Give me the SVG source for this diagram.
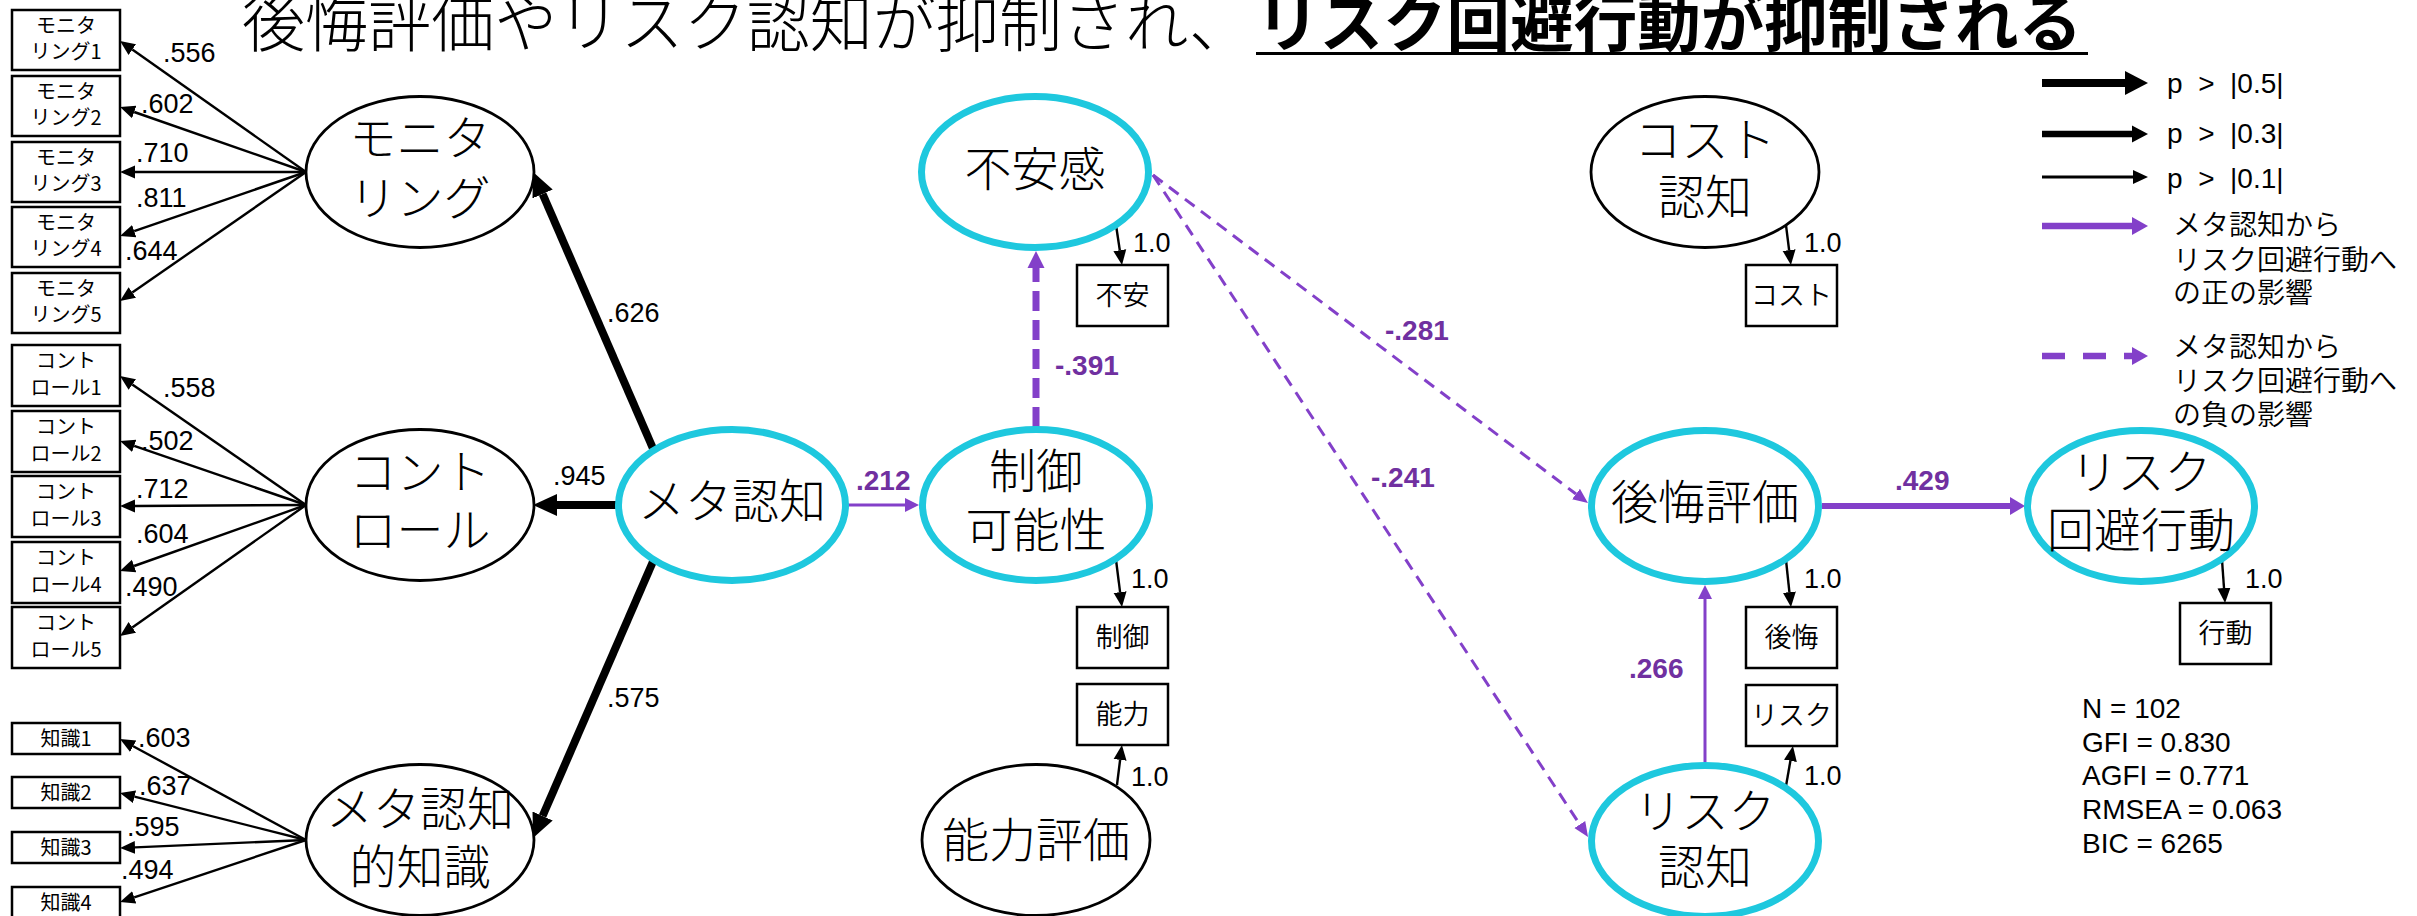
<svg xmlns="http://www.w3.org/2000/svg" width="2417" height="916" viewBox="0 0 2417 916">
<defs>
<style>
.jp{font-family:"Noto Sans CJK JP","Noto Sans",sans-serif;fill:#000}
.nt{font-family:"Noto Sans CJK JP","Noto Sans",sans-serif;font-size:47px;font-weight:300;text-anchor:middle;fill:#000}
.st{font-family:"Noto Sans CJK JP","Noto Sans",sans-serif;font-size:20px;text-anchor:middle;fill:#000}
.mt{font-family:"Noto Sans CJK JP","Noto Sans",sans-serif;font-size:27px;font-weight:350;text-anchor:middle;fill:#000}
.lg{font-family:"Noto Sans CJK JP","Noto Sans",sans-serif;font-size:28px;font-weight:350;fill:#000}
.lb{font-family:"Liberation Sans",Arial,sans-serif;font-size:27px;fill:#000}
.sx{font-family:"Liberation Sans",Arial,sans-serif;font-size:28px;fill:#000}
.pl{font-family:"Liberation Sans",Arial,sans-serif;font-size:28px;font-weight:bold;fill:#7030A0}
.bx{fill:#fff;stroke:#000;stroke-width:2.5}
.be{fill:#fff;stroke:#000;stroke-width:2.8}
.ce{fill:#fff;stroke:#1EC8DE;stroke-width:7}
.k1{stroke:#000;stroke-width:2.4;fill:none}
.k3{stroke:#000;stroke-width:8;fill:none}
.p1{stroke:#8340C9;stroke-width:3;fill:none}
.p2{stroke:#8340C9;stroke-width:6;fill:none}
.pd1{stroke:#8340C9;stroke-width:3;fill:none;stroke-dasharray:12 8}
.pd2{stroke:#8340C9;stroke-width:7;fill:none;stroke-dasharray:20 9}
</style>
<marker id="ak" markerUnits="userSpaceOnUse" viewBox="0 -8 16 16" markerWidth="16" markerHeight="16" refX="0" refY="0" orient="auto"><path d="M0,-6.5L15,0L0,6.5z" fill="#000"/></marker>
<marker id="aK" markerUnits="userSpaceOnUse" viewBox="0 -12 25 24" markerWidth="25" markerHeight="24" refX="0" refY="0" orient="auto"><path d="M0,-11L24,0L0,11z" fill="#000"/></marker>
<marker id="ap" markerUnits="userSpaceOnUse" viewBox="0 -8 15 16" markerWidth="15" markerHeight="16" refX="0" refY="0" orient="auto"><path d="M0,-7L14,0L0,7z" fill="#8340C9"/></marker>
<marker id="ad" markerUnits="userSpaceOnUse" viewBox="0 -8 16 16" markerWidth="16" markerHeight="16" refX="0" refY="0" orient="auto"><path d="M0,-6.5L15,0L0,6.5z" fill="#8340C9"/></marker>
<marker id="aP" markerUnits="userSpaceOnUse" viewBox="0 -10 16 20" markerWidth="16" markerHeight="20" refX="0" refY="0" orient="auto"><path d="M0,-9L15,0L0,9z" fill="#8340C9"/></marker>
<marker id="aD" markerUnits="userSpaceOnUse" viewBox="0 -9 18 18" markerWidth="18" markerHeight="18" refX="0" refY="0" orient="auto"><path d="M0,-8.5L17,0L0,8.5z" fill="#8340C9"/></marker>
</defs>
<rect width="2417" height="916" fill="#fff"/>

<g id="title">
<text x="242" y="46" class="jp" font-size="64" font-weight="300" textLength="1010" lengthAdjust="spacingAndGlyphs">後悔評価やリスク認知が抑制され、</text>
<text x="1256" y="46" class="jp" font-size="64" font-weight="bold" textLength="826" lengthAdjust="spacingAndGlyphs">リスク回避行動が抑制される</text>
<rect x="1256" y="52" width="832" height="3" fill="#000"/>
</g>

<g id="connectors">
<path class="k1" marker-end="url(#ak)" d="M306,172L132.3,49.6"/>
<path class="k1" marker-end="url(#ak)" d="M306,172L134.2,112"/>
<path class="k1" marker-end="url(#ak)" d="M306,172L135,172"/>
<path class="k1" marker-end="url(#ak)" d="M306,172L134.2,231.1"/>
<path class="k1" marker-end="url(#ak)" d="M306,172L132.3,292.5"/>
<path class="k1" marker-end="url(#ak)" d="M306,505L132.3,384.5"/>
<path class="k1" marker-end="url(#ak)" d="M306,505L134.2,445.9"/>
<path class="k1" marker-end="url(#ak)" d="M306,505L135,506"/>
<path class="k1" marker-end="url(#ak)" d="M306,505L134.1,566"/>
<path class="k1" marker-end="url(#ak)" d="M306,505L132.3,627.4"/>
<path class="k1" marker-end="url(#ak)" d="M306,840L133.2,746.2"/>
<path class="k1" marker-end="url(#ak)" d="M306,840L134.5,796.7"/>
<path class="k1" marker-end="url(#ak)" d="M306,840L135,847.4"/>
<path class="k1" marker-end="url(#ak)" d="M306,840L134.2,897.3"/>
<path class="k3" marker-end="url(#aK)" d="M658,460L542.6,194"/>
<path class="k3" marker-end="url(#aK)" d="M640,505L557,505"/>
<path class="k3" marker-end="url(#aK)" d="M658,550L542.6,816"/>
<path class="p1" marker-end="url(#ap)" d="M840,505L905,505"/>
<path class="pd2" marker-end="url(#aD)" d="M1036,427L1036,268"/>
<path class="pd1" marker-end="url(#ad)" d="M1153,175L1576,494"/>
<path class="pd1" marker-end="url(#ad)" d="M1153,175L1579.8,824.5"/>
<path class="p1" marker-end="url(#ap)" d="M1705,762L1705,599"/>
<path class="p2" marker-end="url(#aP)" d="M1822,506L2010,506"/>
<path class="k1" marker-end="url(#ak)" d="M1116,225L1119.8,250.2"/>
<path class="k1" marker-end="url(#ak)" d="M1116,560L1120.1,592.1"/>
<path class="k1" marker-end="url(#ak)" d="M1117,785L1120.1,759.9"/>
<path class="k1" marker-end="url(#ak)" d="M1786,225L1789.1,250.1"/>
<path class="k1" marker-end="url(#ak)" d="M1786,560L1789.4,592.1"/>
<path class="k1" marker-end="url(#ak)" d="M1786,786L1790.4,760.8"/>
<path class="k1" marker-end="url(#ak)" d="M2222,560L2224,588"/>
<text class="lb" x="163" y="62">.556</text>
<text class="lb" x="141" y="113">.602</text>
<text class="lb" x="136" y="162">.710</text>
<text class="lb" x="136" y="207">.811</text>
<text class="lb" x="125" y="260">.644</text>
<text class="lb" x="163" y="397">.558</text>
<text class="lb" x="141" y="450">.502</text>
<text class="lb" x="136" y="498">.712</text>
<text class="lb" x="136" y="543">.604</text>
<text class="lb" x="125" y="596">.490</text>
<text class="lb" x="138" y="747">.603</text>
<text class="lb" x="139" y="795">.637</text>
<text class="lb" x="127" y="836">.595</text>
<text class="lb" x="121" y="879">.494</text>
<text class="lb" x="607" y="322">.626</text>
<text class="lb" x="553" y="485">.945</text>
<text class="lb" x="607" y="707">.575</text>
<text class="lb" x="1133" y="252">1.0</text>
<text class="lb" x="1131" y="588">1.0</text>
<text class="lb" x="1131" y="786">1.0</text>
<text class="lb" x="1804" y="252">1.0</text>
<text class="lb" x="1804" y="588">1.0</text>
<text class="lb" x="1804" y="785">1.0</text>
<text class="lb" x="2245" y="588">1.0</text>
<text class="pl" x="856" y="490">.212</text>
<text class="pl" x="1055" y="375">-.391</text>
<text class="pl" x="1385" y="340">-.281</text>
<text class="pl" x="1371" y="487">-.241</text>
<text class="pl" x="1629" y="678">.266</text>
<text class="pl" x="1895" y="490">.429</text>
</g>

<g id="obs-monitoring">
<rect class="bx" x="12" y="10" width="108" height="60"/><text class="st" x="66" y="33">モニタ<tspan x="66" y="59">リング1</tspan></text>
<rect class="bx" x="12" y="76" width="108" height="60"/><text class="st" x="66" y="99">モニタ<tspan x="66" y="125">リング2</tspan></text>
<rect class="bx" x="12" y="142" width="108" height="60"/><text class="st" x="66" y="165">モニタ<tspan x="66" y="191">リング3</tspan></text>
<rect class="bx" x="12" y="207" width="108" height="60"/><text class="st" x="66" y="230">モニタ<tspan x="66" y="256">リング4</tspan></text>
<rect class="bx" x="12" y="273" width="108" height="60"/><text class="st" x="66" y="296">モニタ<tspan x="66" y="322">リング5</tspan></text>
</g>
<g id="obs-control">
<rect class="bx" x="12" y="345" width="108" height="61"/><text class="st" x="66" y="368">コント<tspan x="66" y="395">ロール1</tspan></text>
<rect class="bx" x="12" y="411" width="108" height="61"/><text class="st" x="66" y="434">コント<tspan x="66" y="461">ロール2</tspan></text>
<rect class="bx" x="12" y="476" width="108" height="61"/><text class="st" x="66" y="499">コント<tspan x="66" y="526">ロール3</tspan></text>
<rect class="bx" x="12" y="542" width="108" height="61"/><text class="st" x="66" y="565">コント<tspan x="66" y="592">ロール4</tspan></text>
<rect class="bx" x="12" y="607" width="108" height="61"/><text class="st" x="66" y="630">コント<tspan x="66" y="657">ロール5</tspan></text>
</g>
<g id="obs-knowledge">
<rect class="bx" x="12" y="723" width="108" height="31"/><text class="st" x="66" y="746">知識1</text>
<rect class="bx" x="12" y="777" width="108" height="31"/><text class="st" x="66" y="800">知識2</text>
<rect class="bx" x="12" y="832" width="108" height="31"/><text class="st" x="66" y="855">知識3</text>
<rect class="bx" x="12" y="887" width="108" height="31"/><text class="st" x="66" y="910">知識4</text>
</g>

<g id="monitoring"><ellipse class="be" cx="420" cy="172" rx="114" ry="75.5"/><text class="nt" x="420" y="155">モニタ<tspan x="420" y="215">リング</tspan></text></g>
<g id="control"><ellipse class="be" cx="420" cy="505" rx="114" ry="75.5"/><text class="nt" x="420" y="489">コント<tspan x="420" y="547">ロール</tspan></text></g>
<g id="metaknowledge"><ellipse class="be" cx="420" cy="840" rx="114" ry="75.5"/><text class="nt" x="420" y="826">メタ認知<tspan x="420" y="884">的知識</tspan></text></g>
<g id="metacognition"><ellipse class="ce" cx="732" cy="505" rx="113.5" ry="75.5"/><text class="nt" x="732" y="518">メタ認知</text></g>
<g id="anxiety"><ellipse class="ce" cx="1035" cy="172" rx="113.5" ry="75.5"/><text class="nt" x="1035" y="186">不安感</text></g>
<g id="controllability"><ellipse class="ce" cx="1036" cy="505" rx="113.5" ry="75.5"/><text class="nt" x="1036" y="488">制御<tspan x="1036" y="547">可能性</tspan></text></g>
<g id="ability"><ellipse class="be" cx="1036" cy="840" rx="114" ry="75.5"/><text class="nt" x="1036" y="857">能力評価</text></g>
<g id="cost"><ellipse class="be" cx="1705" cy="172" rx="114" ry="75.5"/><text class="nt" x="1705" y="157">コスト<tspan x="1705" y="214">認知</tspan></text></g>
<g id="regret"><ellipse class="ce" cx="1705" cy="506" rx="113.5" ry="75.5"/><text class="nt" x="1705" y="519">後悔評価</text></g>
<g id="riskperception"><ellipse class="ce" cx="1705" cy="841" rx="113.5" ry="75.5"/><text class="nt" x="1705" y="828">リスク<tspan x="1705" y="884">認知</tspan></text></g>
<g id="riskavoidance"><ellipse class="ce" cx="2141" cy="506" rx="113.5" ry="75.5"/><text class="nt" x="2141" y="489">リスク<tspan x="2141" y="547">回避行動</tspan></text></g>

<g id="obs-right">
<rect class="bx" x="1077" y="265" width="91" height="61"/><text class="mt" x="1122.5" y="305">不安</text>
<rect class="bx" x="1746" y="265" width="91" height="61"/><text class="mt" x="1791.5" y="305">コスト</text>
<rect class="bx" x="1077" y="607" width="91" height="61"/><text class="mt" x="1122.5" y="647">制御</text>
<rect class="bx" x="1077" y="684" width="91" height="61"/><text class="mt" x="1122.5" y="724">能力</text>
<rect class="bx" x="1746" y="607" width="91" height="61"/><text class="mt" x="1791.5" y="647">後悔</text>
<rect class="bx" x="1746" y="685" width="91" height="61"/><text class="mt" x="1791.5" y="725">リスク</text>
<rect class="bx" x="2180" y="603" width="91" height="61"/><text class="mt" x="2225.5" y="643">行動</text>
</g>

<g id="legend">
<line x1="2042" y1="83" x2="2126" y2="83" stroke="#000" stroke-width="8"/><path d="M2125,71L2148,83L2125,95z" fill="#000"/>
<line x1="2042" y1="134" x2="2133" y2="134" stroke="#000" stroke-width="6.5"/><path d="M2132,125.5L2148,134L2132,142.5z" fill="#000"/>
<line x1="2042" y1="177" x2="2134" y2="177" stroke="#000" stroke-width="3"/><path d="M2133,170L2148,177L2133,184z" fill="#000"/>
<line x1="2042" y1="226" x2="2133" y2="226" stroke="#8340C9" stroke-width="6.5"/><path d="M2132,217L2148,226L2132,235z" fill="#8340C9"/>
<line x1="2042" y1="356" x2="2133" y2="356" stroke="#8340C9" stroke-width="6.5" stroke-dasharray="23 18"/><path d="M2132,347L2148,356L2132,365z" fill="#8340C9"/>
<text class="sx" x="2167" y="93" font-size="27" xml:space="preserve">p  &gt;  |0.5|</text>
<text class="sx" x="2167" y="143" font-size="27" xml:space="preserve">p  &gt;  |0.3|</text>
<text class="sx" x="2167" y="188" font-size="27" xml:space="preserve">p  &gt;  |0.1|</text>
<text class="lg" x="2173" y="235">メタ認知から<tspan x="2173" y="270">リスク回避行動へ</tspan><tspan x="2173" y="303">の正の影響</tspan></text>
<text class="lg" x="2173" y="357">メタ認知から<tspan x="2173" y="391">リスク回避行動へ</tspan><tspan x="2173" y="425">の負の影響</tspan></text>
</g>

<g id="stats">
<text class="sx" x="2082" y="718">N = 102</text>
<text class="sx" x="2082" y="752">GFI = 0.830</text>
<text class="sx" x="2082" y="785">AGFI = 0.771</text>
<text class="sx" x="2082" y="819">RMSEA = 0.063</text>
<text class="sx" x="2082" y="853">BIC = 6265</text>
</g>
</svg>
